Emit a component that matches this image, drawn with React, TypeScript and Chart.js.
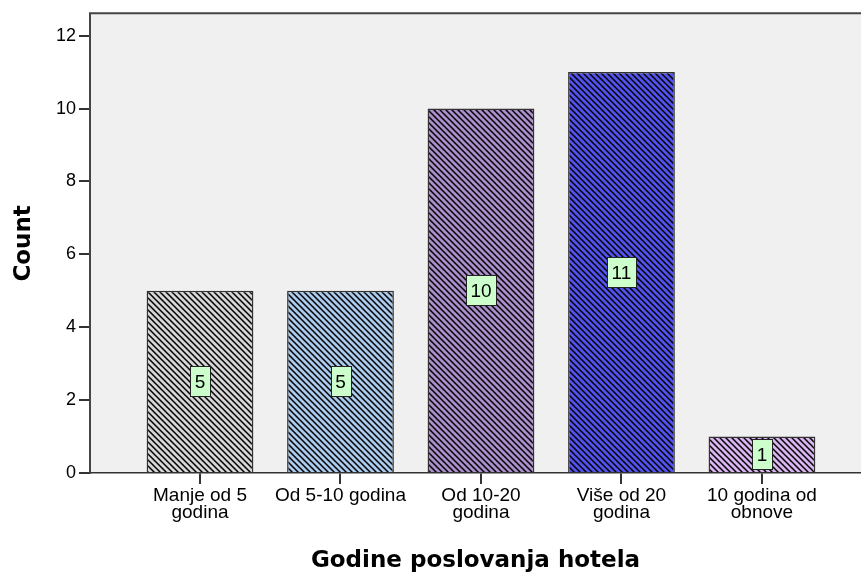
import React, { useEffect, useRef } from "react";
import { Chart, registerables } from "chart.js";

Chart.register(...registerables);

const categories = [
  "Manje od 5\ngodina",
  "Od 5-10 godina",
  "Od 10-20\ngodina",
  "Više od 20\ngodina",
  "10 godina od\nobnove",
];
const counts = [5, 5, 10, 11, 1];
const barColors = ["#d6d6d6", "#aacbee", "#ab8ecb", "#5252ee", "#dab4f0"];
const yTicks = [0, 2, 4, 6, 8, 10, 12];
const xTitle = "Godine poslovanja hotela";
const yTitle = "Count";

function makePattern(ctx: CanvasRenderingContext2D, base: string) {
  const c = document.createElement("canvas");
  c.width = 6;
  c.height = 6;
  const g = c.getContext("2d")!;
  g.fillStyle = base;
  g.fillRect(0, 0, 6, 6);
  g.strokeStyle = "#000";
  g.lineWidth = 1.5;
  g.beginPath();
  g.moveTo(-1, -1);
  g.lineTo(7, 7);
  g.moveTo(-1, 5);
  g.lineTo(1, 7);
  g.moveTo(5, -1);
  g.lineTo(7, 1);
  g.stroke();
  return ctx.createPattern(c, "repeat")!;
}

const plotPlugin = {
  id: "plotDecor",
  beforeDraw(chart: any) {
    const { ctx, chartArea } = chart;
    ctx.save();
    ctx.fillStyle = "#f0f0f0";
    ctx.fillRect(chartArea.left, chartArea.top, chartArea.right - chartArea.left, chartArea.bottom - chartArea.top);
    ctx.restore();
  },
  afterDraw(chart: any) {
    const { ctx, chartArea } = chart;
    ctx.save();
    ctx.strokeStyle = "#444";
    ctx.lineWidth = 2;
    ctx.beginPath();
    ctx.moveTo(chartArea.left - 1, chartArea.top - 0.5);
    ctx.lineTo(chartArea.right, chartArea.top - 0.5);
    ctx.stroke();
    const meta = chart.getDatasetMeta(0);
    ctx.font = "19px 'Liberation Sans', Arial, sans-serif";
    ctx.textAlign = "center";
    ctx.textBaseline = "middle";
    meta.data.forEach((bar: any, i: number) => {
      const txt = String(counts[i]);
      const cx = bar.x;
      const cy = (bar.y + bar.base) / 2;
      const w = ctx.measureText(txt).width + 9;
      const h = 30;
      const x0 = Math.round(cx - w / 2) + 0.5;
      const y0 = Math.round(cy - h / 2) + 0.5;
      ctx.fillStyle = "#ccffcc";
      ctx.fillRect(x0, y0, Math.round(w), h);
      ctx.strokeStyle = "#222";
      ctx.lineWidth = 1;
      ctx.strokeRect(x0, y0, Math.round(w), h);
      ctx.fillStyle = "#000";
      ctx.fillText(txt, cx, cy + 1.5);
    });
    ctx.restore();
  },
};

export default function App() {
  const ref = useRef<HTMLCanvasElement | null>(null);
  useEffect(() => {
    const canvas = ref.current!;
    const ctx = canvas.getContext("2d")!;
    const patterns = barColors.map((c) => makePattern(ctx, c));
    const chart = new Chart(canvas, {
      type: "bar",
      data: {
        datasets: [
          {
            data: counts.map((v, i) => ({ x: i, y: v })),
            backgroundColor: patterns as any,
            borderColor: "#333",
            borderWidth: 1.5,
            barPercentage: 0.76,
            categoryPercentage: 1,
          },
        ],
      },
      options: {
        animation: false,
        responsive: false,
        devicePixelRatio: 1,
        layout: { padding: { top: 13, right: 0, left: 0, bottom: 0 } },
        plugins: { legend: { display: false }, tooltip: { enabled: false } },
        scales: {
          x: {
            type: "linear",
            offset: false,
            min: -0.783,
            max: 4.705,
            afterBuildTicks: (s: any) => {
              s.ticks = categories.map((_, i) => ({ value: i }));
            },
            afterFit: (s: any) => {
              s.height = 102;
            },
            ticks: {
              autoSkip: false,
              maxRotation: 0,
              minRotation: 0,
              padding: 3,
              color: "#000",
              font: { family: "'Liberation Sans', Arial, sans-serif", size: 19, lineHeight: 0.9 },
              callback: (v: any) => categories[v]?.split("\n"),
            },
            grid: { offset: false, drawOnChartArea: false, drawTicks: true, tickLength: 11, color: "#333", lineWidth: 2 },
            border: { display: true, color: "#333", width: 1.5 },
            title: {
              display: true,
              text: xTitle,
              color: "#000",
              font: { family: "'DejaVu Sans', sans-serif", size: 23, weight: "bold" },
              padding: { top: 0, bottom: 0 },
            },
          },
          y: {
            min: 0,
            max: 12.6,
            afterBuildTicks: (s: any) => {
              s.ticks = yTicks.map((v) => ({ value: v }));
            },
            afterFit: (s: any) => {
              s.width = 90;
            },
            ticks: {
              padding: 3,
              color: "#000",
              font: { family: "'Liberation Sans', Arial, sans-serif", size: 18 },
            },
            grid: { drawOnChartArea: false, drawTicks: true, tickLength: 11, color: "#333", lineWidth: 2 },
            border: { display: true, color: "#444", width: 2 },
            title: {
              display: true,
              text: yTitle,
              color: "#000",
              font: { family: "'DejaVu Sans', sans-serif", size: 23, weight: "bold" },
              padding: { top: 10, bottom: 0 },
            },
          },
        },
      },
      plugins: [plotPlugin],
    });
    return () => chart.destroy();
  }, []);
  return (
    <div style={{ position: "absolute", left: 0, top: 0, width: 861, height: 575, background: "#fff" }}>
      <canvas ref={ref} width={861} height={575} style={{ display: "block", width: 861, height: 575 }} />
    </div>
  );
}
